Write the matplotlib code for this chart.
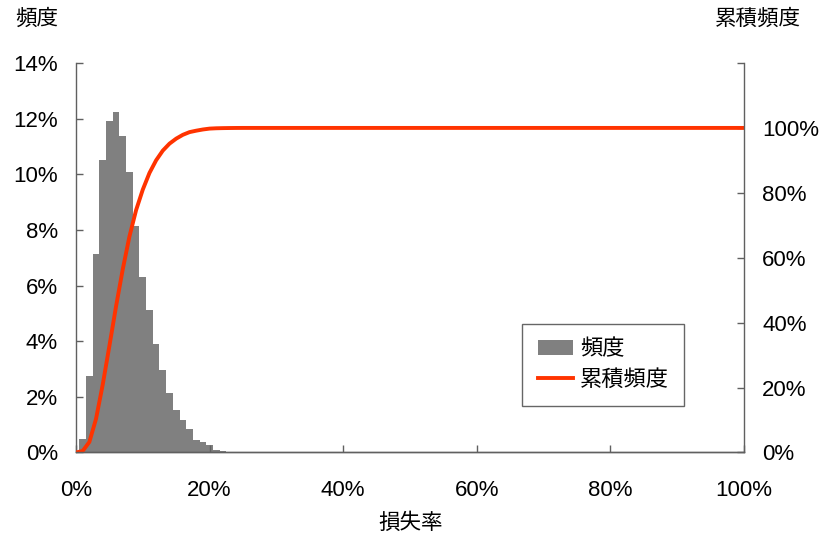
import matplotlib.pyplot as plt
import numpy as np
from matplotlib.ticker import PercentFormatter

plt.rcParams['font.family'] = ['Liberation Sans', 'Noto Sans CJK JP']

# Loss-rate distribution: frequency (%) per 1% bin, bins centred at 1%, 2%, ...
bin_centers = np.arange(1, 26)
freq = [0.47, 2.76, 7.14, 10.52, 11.93, 12.24, 11.38, 10.10, 8.15, 6.31,
        5.13, 3.91, 2.98, 2.14, 1.54, 1.18, 0.83, 0.44, 0.37, 0.27,
        0.10, 0.05, 0.03, 0.02, 0.01]

# Cumulative frequency evaluated at 0%, 1%, ..., 100%
cum_x = np.arange(0, 101)
cum_y = np.concatenate([[0], np.cumsum(np.pad(freq, (0, 100 - len(freq))))])

bar_color = '#808080'
line_color = '#FF3300'
axis_color = '#606060'

fig = plt.figure(figsize=(8.26, 5.39), dpi=100)
ax1 = fig.add_axes([0.092, 0.1605, 0.8087, 0.7226])
ax2 = ax1.twinx()

bars = ax1.bar(bin_centers, freq, width=1.0, color=bar_color, linewidth=0, label='頻度')
line, = ax2.plot(cum_x, cum_y, color=line_color, linewidth=2.8, label='累積頻度')

ax1.set_xlim(0, 100)
ax1.set_ylim(0, 14)
ax2.set_ylim(0, 120)
ax1.set_xticks(np.arange(0, 101, 20))
ax1.set_yticks(np.arange(0, 15, 2))
ax2.set_yticks(np.arange(0, 121, 20))
ax1.xaxis.set_major_formatter(PercentFormatter(decimals=0))
ax1.yaxis.set_major_formatter(PercentFormatter(decimals=0))
ax2.set_yticklabels([f'{v}%' for v in range(0, 101, 20)] + [''])

for ax in (ax1, ax2):
    ax.spines['top'].set_visible(False)
    for s in ('left', 'right', 'bottom'):
        ax.spines[s].set_color(axis_color)
        ax.spines[s].set_linewidth(1.0)
    ax.tick_params(direction='in', length=5, width=1.0, color=axis_color,
                   labelsize=16, labelcolor='black')
ax1.tick_params(axis='y', pad=13)
ax1.tick_params(axis='x', pad=20)
ax2.tick_params(axis='y', pad=13)
ax2.spines['left'].set_visible(False)
ax1.spines['right'].set_visible(False)

fig.text(0.044, 0.965, '頻度', fontsize=15.5, ha='center', va='center')
fig.text(0.918, 0.965, '累積頻度', fontsize=15.5, ha='center', va='center')
fig.text(0.497, 0.028, '損失率', fontsize=15.5, ha='center', va='center')

leg = ax2.legend([bars, line], ['頻度', '累積頻度'], loc='upper left',
                 bbox_to_anchor=(0.632, 0.399), bbox_transform=fig.transFigure,
                 borderaxespad=0, fontsize=16, frameon=True, fancybox=False,
                 borderpad=0.7, handlelength=1.6, handletextpad=0.3,
                 labelspacing=0.4)
leg.get_frame().set_edgecolor('#404040')
leg.get_frame().set_linewidth(1.0)

fig.savefig('out.png', dpi=100)
